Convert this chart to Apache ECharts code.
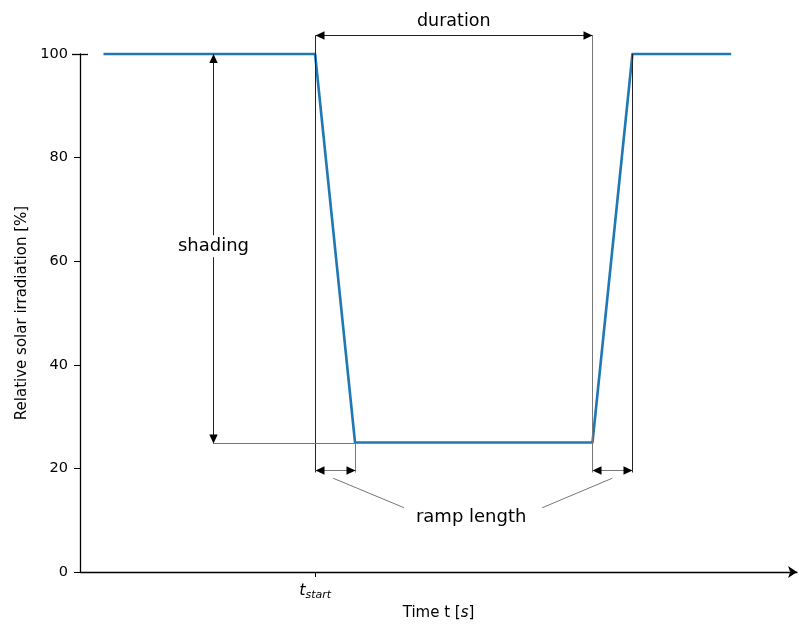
<!DOCTYPE html>
<html>
<head>
<meta charset="utf-8">
<script src="https://cdn.jsdelivr.net/npm/echarts@6/dist/echarts.min.js"></script>
<style>
  html, body { margin: 0; padding: 0; background: #ffffff; }
  #chart { width: 799px; height: 626px; }
</style>
</head>
<body>
<div id="chart"></div>
<script>
// Shading event profile: time [s] and relative irradiation [%]
const timeValues = [1, 10, 11.7, 21.8, 23.5, 27.7];
const irradiation = [100, 100, 25, 25, 100, 100];
const yTicks = [0, 20, 40, 60, 80, 100];

// Event parameters used for the dimension annotations
const tStart = 10;
const rampLength = 1.7;
const duration = 11.8;
const shadingLevel = 25;
const fullLevel = 100;
const xMax = 30.5;

// Where the annotation arrows and labels sit (data units)
const layout = {
  durationY: 103.7,
  rampArrowY: 19.7,
  shadingX: 5.66,
  shadingLabelY: 62.9,
  durationLabelY: 106.3,
  rampLabel: [16.64, 10.6],
  rampLeaderLeft: [[10.77, 18.1], [13.79, 12.4]],
  rampLeaderRight: [[22.64, 18.1], [19.66, 12.4]]
};

const FONT = 'DejaVu Sans';
const chart = echarts.init(document.getElementById('chart'), null, { renderer: 'canvas' });

chart.setOption({
  animation: false,
  backgroundColor: '#ffffff',
  grid: { left: 80, right: 2, top: 54, bottom: 54 },
  xAxis: {
    type: 'value',
    min: 0,
    max: xMax,
    splitLine: { show: false },
    axisLine: {
      show: true,
      lineStyle: { color: '#000', width: 1.3 },
      symbol: ['none', 'arrow'],
      symbolSize: [9, 9],
      symbolOffset: [0, 0]
    },
    axisTick: { show: true, customValues: [tStart], length: 5, lineStyle: { color: '#000', width: 1 } },
    axisLabel: {
      customValues: [tStart],
      margin: 9,
      formatter: () => '{t|t}{s|start}',
      rich: {
        t: { fontFamily: FONT, fontSize: 16, fontStyle: 'italic', color: '#000' },
        s: { fontFamily: FONT, fontSize: 11, fontStyle: 'italic', color: '#000', padding: [9, 0, 0, 0] }
      }
    },
    name: 'Time t [{i|s}]',
    nameLocation: 'middle',
    nameGap: 32,
    nameTextStyle: {
      fontFamily: FONT, fontSize: 15, color: '#000',
      rich: { i: { fontFamily: FONT, fontSize: 15, fontStyle: 'italic', color: '#000' } }
    }
  },
  yAxis: {
    type: 'value',
    min: 0,
    max: 100,
    interval: 20,
    splitLine: { show: false },
    axisLine: { show: true, lineStyle: { color: '#000', width: 1.3 } },
    axisTick: { show: true, length: 6, lineStyle: { color: '#000', width: 1 } },
    axisLabel: {
      margin: 12,
      fontFamily: FONT, fontSize: 14.5, color: '#000',
      customValues: yTicks
    },
    name: 'Relative solar irradiation [%]',
    nameLocation: 'middle',
    nameGap: 50,
    nameTextStyle: { fontFamily: FONT, fontSize: 15, color: '#000' }
  },
  series: [{
    type: 'line',
    data: timeValues.map((t, i) => [t, irradiation[i]]),
    showSymbol: false,
    symbol: 'none',
    clip: false,
    lineStyle: { color: '#1f77b4', width: 2.6, join: 'round' },
    z: 5
  }]
});

// Annotation overlay positioned through the chart's own coordinate system
function px(x, y) { return chart.convertToPixel({ gridIndex: 0 }, [x, y]); }
function crisp(v) { return Math.round(v) + 0.5; }

const thin = { stroke: '#222', lineWidth: 1 };
const grey = { stroke: '#777', lineWidth: 1 };
const elements = [];

function segment(a, b, style) {
  elements.push({ type: 'line', silent: true, z: 10,
    shape: { x1: a[0], y1: a[1], x2: b[0], y2: b[1] }, style: Object.assign({}, style) });
}
function head(tip, dx, dy) {
  // filled triangular arrowhead pointing along (dx, dy)
  const L = 9, W = 4.2;
  const bx = tip[0] - dx * L, by = tip[1] - dy * L;
  elements.push({ type: 'polygon', silent: true, z: 11,
    shape: { points: [[tip[0], tip[1]], [bx - dy * W, by + dx * W], [bx + dy * W, by - dx * W]] },
    style: { fill: '#000' } });
}
function label(text, p, size) {
  elements.push({ type: 'text', silent: true, z: 12, x: p[0], y: p[1],
    style: { text, fontFamily: FONT, fontSize: size, fill: '#000', align: 'center', verticalAlign: 'middle',
      backgroundColor: '#fff', padding: [2, 2] } });
}

const xs = crisp(px(tStart, 0)[0]);
const xr = crisp(px(tStart + rampLength, 0)[0]);
const xe = crisp(px(tStart + duration, 0)[0]);
const xf = crisp(px(tStart + duration + rampLength, 0)[0]);
const yDur = crisp(px(0, layout.durationY)[1]);
const yRamp = crisp(px(0, layout.rampArrowY)[1]);
const yFull = px(0, fullLevel)[1];
const yShade = crisp(px(0, shadingLevel)[1]);
const xSh = crisp(px(layout.shadingX, 0)[0]);
const yBottom = yRamp + 2;

// cap at the top of the y axis
const yAxisX = px(0, 0)[0];
segment([yAxisX - 8, crisp(yFull)], [yAxisX + 8, crisp(yFull)], { stroke: '#000', lineWidth: 1.3 });

// extension lines
segment([xs, yDur], [xs, yBottom], thin);
segment([xe, yDur], [xe, yBottom], grey);
segment([xr, yShade], [xr, yBottom], grey);
segment([xf, yFull], [xf, yBottom], thin);
segment([xSh, yShade], [xr, yShade], grey);

// duration dimension
segment([xs, yDur], [xe, yDur], thin);
head([xs, yDur], -1, 0);
head([xe, yDur], 1, 0);
label('duration', px(tStart + duration / 2, layout.durationLabelY), 17.5);

// ramp length dimensions
segment([xs, yRamp], [xr, yRamp], grey);
head([xs, yRamp], -1, 0);
head([xr, yRamp], 1, 0);
segment([xe, yRamp], [xf, yRamp], grey);
head([xe, yRamp], -1, 0);
head([xf, yRamp], 1, 0);

// shading dimension
segment([xSh, yFull], [xSh, yShade], thin);
head([xSh, yFull], 0, -1);
head([xSh, yShade], 0, 1);
label('shading', [xSh, px(0, layout.shadingLabelY)[1]], 18);

// ramp length callout
segment(px(...layout.rampLeaderLeft[0]), px(...layout.rampLeaderLeft[1]), grey);
segment(px(...layout.rampLeaderRight[0]), px(...layout.rampLeaderRight[1]), grey);
label('ramp length', px(...layout.rampLabel), 18);

chart.setOption({ graphic: { elements } });
</script>
</body>
</html>
